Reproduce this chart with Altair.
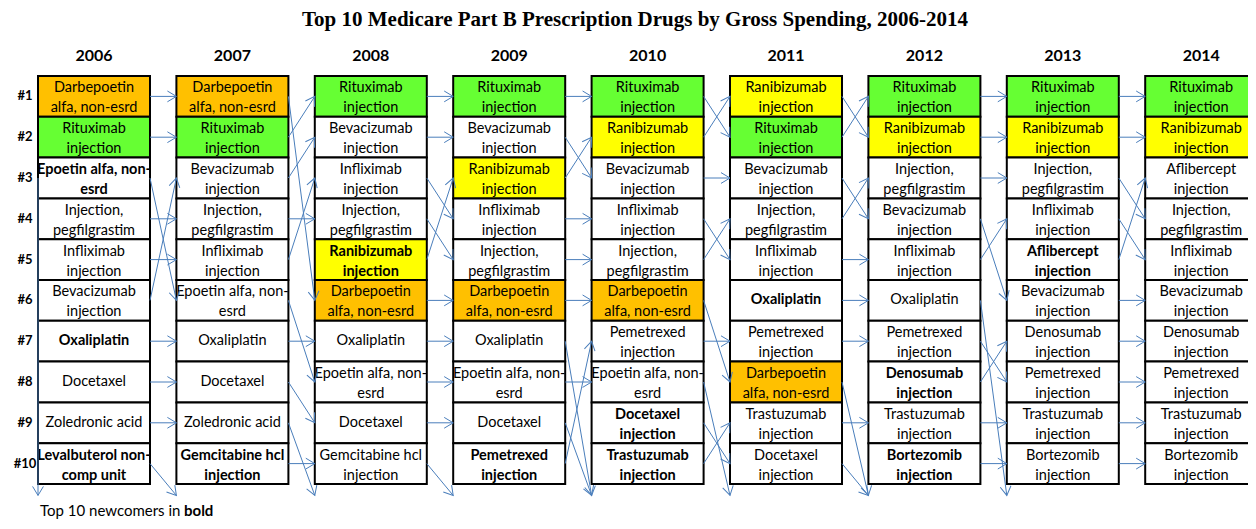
import math
import altair as alt
import pandas as pd

# ---------------- data ----------------
years = ["2006", "2007", "2008", "2009", "2010", "2011", "2012", "2013", "2014"]
rank_labels = ["#1", "#2", "#3", "#4", "#5", "#6", "#7", "#8", "#9", "#10"]

rank_2006 = ["Darbepoetin alfa, non-esrd", "Rituximab injection", "Epoetin alfa, non-esrd",
             "Injection, pegfilgrastim", "Infliximab injection", "Bevacizumab injection",
             "Oxaliplatin", "Docetaxel", "Zoledronic acid", "Levalbuterol non-comp unit"]
rank_2007 = ["Darbepoetin alfa, non-esrd", "Rituximab injection", "Bevacizumab injection",
             "Injection, pegfilgrastim", "Infliximab injection", "Epoetin alfa, non-esrd",
             "Oxaliplatin", "Docetaxel", "Zoledronic acid", "Gemcitabine hcl injection"]
rank_2008 = ["Rituximab injection", "Bevacizumab injection", "Infliximab injection",
             "Injection, pegfilgrastim", "Ranibizumab injection", "Darbepoetin alfa, non-esrd",
             "Oxaliplatin", "Epoetin alfa, non-esrd", "Docetaxel", "Gemcitabine hcl injection"]
rank_2009 = ["Rituximab injection", "Bevacizumab injection", "Ranibizumab injection",
             "Infliximab injection", "Injection, pegfilgrastim", "Darbepoetin alfa, non-esrd",
             "Oxaliplatin", "Epoetin alfa, non-esrd", "Docetaxel", "Pemetrexed injection"]
rank_2010 = ["Rituximab injection", "Ranibizumab injection", "Bevacizumab injection",
             "Infliximab injection", "Injection, pegfilgrastim", "Darbepoetin alfa, non-esrd",
             "Pemetrexed injection", "Epoetin alfa, non-esrd", "Docetaxel injection",
             "Trastuzumab injection"]
rank_2011 = ["Ranibizumab injection", "Rituximab injection", "Bevacizumab injection",
             "Injection, pegfilgrastim", "Infliximab injection", "Oxaliplatin",
             "Pemetrexed injection", "Darbepoetin alfa, non-esrd", "Trastuzumab injection",
             "Docetaxel injection"]
rank_2012 = ["Rituximab injection", "Ranibizumab injection", "Injection, pegfilgrastim",
             "Bevacizumab injection", "Infliximab injection", "Oxaliplatin",
             "Pemetrexed injection", "Denosumab injection", "Trastuzumab injection",
             "Bortezomib injection"]
rank_2013 = ["Rituximab injection", "Ranibizumab injection", "Injection, pegfilgrastim",
             "Infliximab injection", "Aflibercept injection", "Bevacizumab injection",
             "Denosumab injection", "Pemetrexed injection", "Trastuzumab injection",
             "Bortezomib injection"]
rank_2014 = ["Rituximab injection", "Ranibizumab injection", "Aflibercept injection",
             "Injection, pegfilgrastim", "Infliximab injection", "Bevacizumab injection",
             "Denosumab injection", "Pemetrexed injection", "Trastuzumab injection",
             "Bortezomib injection"]

bold_2006 = ["Epoetin alfa, non-esrd", "Oxaliplatin", "Levalbuterol non-comp unit"]
bold_2007 = ["Gemcitabine hcl injection"]
bold_2008 = ["Ranibizumab injection"]
bold_2009 = ["Pemetrexed injection"]
bold_2010 = ["Docetaxel injection", "Trastuzumab injection"]
bold_2011 = ["Oxaliplatin"]
bold_2012 = ["Denosumab injection", "Bortezomib injection"]
bold_2013 = ["Aflibercept injection"]
bold_2014 = []

highlight = {"Darbepoetin alfa, non-esrd": "#FFC000",
             "Rituximab injection": "#66FF33",
             "Ranibizumab injection": "#FFFF00"}

display_names = {"Darbepoetin alfa, non-esrd": "Darbepoetin\nalfa, non-esrd",
                 "Epoetin alfa, non-esrd": "Epoetin alfa, non-\nesrd",
                 "Injection, pegfilgrastim": "Injection,\npegfilgrastim",
                 "Levalbuterol non-comp unit": "Levalbuterol non-\ncomp unit",
                 "Gemcitabine hcl injection": "Gemcitabine hcl\ninjection"}

title_text = "Top 10 Medicare Part B Prescription Drugs by Gross Spending, 2006-2014"
note_text = "Top 10 newcomers in "
note_bold = "bold"

rankings = [rank_2006, rank_2007, rank_2008, rank_2009, rank_2010,
            rank_2011, rank_2012, rank_2013, rank_2014]
bolds = [bold_2006, bold_2007, bold_2008, bold_2009, bold_2010,
         bold_2011, bold_2012, bold_2013, bold_2014]

# ---------------- layout ----------------
W, H = 1240, 513
COL_PX, ROW_PX = 138.4, 40.8
X0_PX, Y0_PX = 86.0, 47.6          # pixel position of column 0 / rank 0
HALF_W = 56.0 / COL_PX
LINE_H = 20
LINE_SHIFT = 8                     # upward shift of first line for two-line labels
DROP = 10.78
BLUE = "#4A7EBB"
FONT = "Lato"

xs = alt.Scale(domain=[-X0_PX / COL_PX, (W - X0_PX) / COL_PX], range=[0, W], nice=False, zero=False)
ys = alt.Scale(domain=[-Y0_PX / ROW_PX, (H - Y0_PX) / ROW_PX], range=[0, H], nice=False, zero=False)


def show(name):
    if name in display_names:
        return display_names[name]
    if name.endswith(" injection"):
        return name[: -len(" injection")] + "\ninjection"
    return name


cells = []
for c, (lst, bl) in enumerate(zip(rankings, bolds)):
    for r, name in enumerate(lst, start=1):
        lab = show(name)
        n = lab.count("\n") + 1
        cells.append({"col": c, "rank": r, "ty": r - (n - 1) * LINE_SHIFT / ROW_PX,
                      "x1": c - HALF_W, "x2": c + HALF_W,
                      "y1": r - 0.5, "y2": r + 0.5, "label": lab,
                      "fill": highlight.get(name, "#FFFFFF"),
                      "bold": name in bl})
cells = pd.DataFrame(cells)

arrows = []
for c in range(len(rankings) - 1):
    nxt = rankings[c + 1]
    for r, name in enumerate(rankings[c], start=1):
        tgt = nxt.index(name) + 1 if name in nxt else DROP
        arrows.append({"x1": c + HALF_W, "y1": r, "x2": c + 1 - HALF_W, "y2": tgt})
# arrow along the left side of the 2006 column
arrows.append({"x1": -HALF_W, "y1": 3, "x2": -HALF_W, "y2": DROP})
arrows = pd.DataFrame(arrows)
arrows["angle"] = [
    math.degrees(math.atan2((b - a) * ROW_PX, (d - cc) * COL_PX)) % 360
    for a, b, cc, d in zip(arrows.y1, arrows.y2, arrows.x1, arrows.x2)
]

year_df = pd.DataFrame({"col": list(range(len(years))), "year": years, "r": [0.02] * len(years)})
rank_df = pd.DataFrame({"rank": list(range(1, 11)), "lab": rank_labels})

# ---------------- marks ----------------
boxes = alt.Chart(cells).mark_rect(stroke="black", strokeWidth=2).encode(
    x=alt.X("x1:Q", scale=xs, axis=None), x2="x2:Q",
    y=alt.Y("y1:Q", scale=ys, axis=None), y2="y2:Q",
    fill=alt.Fill("fill:N", scale=None),
)

txt_base = alt.Chart(cells).encode(
    x=alt.X("col:Q", scale=xs, axis=None),
    y=alt.Y("ty:Q", scale=ys, axis=None),
    text="label:N",
)
txt_norm = txt_base.transform_filter("!datum.bold").mark_text(
    font=FONT, fontSize=14.5, lineBreak="\n", lineHeight=LINE_H, color="black",
    align="center", baseline="middle")
txt_bold = txt_base.transform_filter("datum.bold").mark_text(
    font=FONT, fontSize=14.5, fontWeight="bold", lineBreak="\n", lineHeight=LINE_H,
    color="black", align="center", baseline="middle")

lines = alt.Chart(arrows).mark_rule(color=BLUE, strokeWidth=1).encode(
    x=alt.X("x1:Q", scale=xs, axis=None), x2="x2:Q",
    y=alt.Y("y1:Q", scale=ys, axis=None), y2="y2:Q",
)
heads = alt.Chart(arrows).mark_point(
    shape="M-1,-0.6L0,0L-1,0.6", size=324, filled=False, color=BLUE,
    strokeWidth=1, opacity=1).encode(
    x=alt.X("x2:Q", scale=xs, axis=None),
    y=alt.Y("y2:Q", scale=ys, axis=None),
    angle=alt.Angle("angle:Q", scale=None),
)

year_txt = alt.Chart(year_df).mark_text(
    font=FONT, fontSize=16, fontWeight="bold", color="black",
    align="center", baseline="middle").encode(
    x=alt.X("col:Q", scale=xs, axis=None),
    y=alt.Y("r:Q", scale=ys, axis=None),
    text="year:N",
)
rank_txt = alt.Chart(rank_df).mark_text(
    font=FONT, fontSize=13, fontWeight="bold", color="black",
    align="center", baseline="middle").encode(
    x=alt.value(17),
    y=alt.Y("rank:Q", scale=ys, axis=None),
    text="lab:N",
)
title = alt.Chart(pd.DataFrame({"t": [title_text]})).mark_text(
    font="Liberation Serif", fontSize=21, fontWeight="bold", color="black",
    align="center", baseline="alphabetic").encode(
    x=alt.value(627), y=alt.value(18), text="t:N")
note1 = alt.Chart(pd.DataFrame({"t": [note_text]})).mark_text(
    font=FONT, fontSize=15, color="black", align="left", baseline="middle").encode(
    x=alt.value(32), y=alt.value(503), text="t:N")
note2 = alt.Chart(pd.DataFrame({"t": [note_bold]})).mark_text(
    font=FONT, fontSize=15, fontWeight="bold", color="black", align="left",
    baseline="middle").encode(
    x=alt.value(176), y=alt.value(503), text="t:N")

chart = alt.layer(
    boxes, txt_norm, txt_bold, lines, heads, year_txt, rank_txt, title, note1, note2
).properties(width=W, height=H, padding=0, autosize="none", background="white"
).configure_view(strokeWidth=0)

chart.save("out.html", embed_options={"renderer": "svg", "actions": False})
